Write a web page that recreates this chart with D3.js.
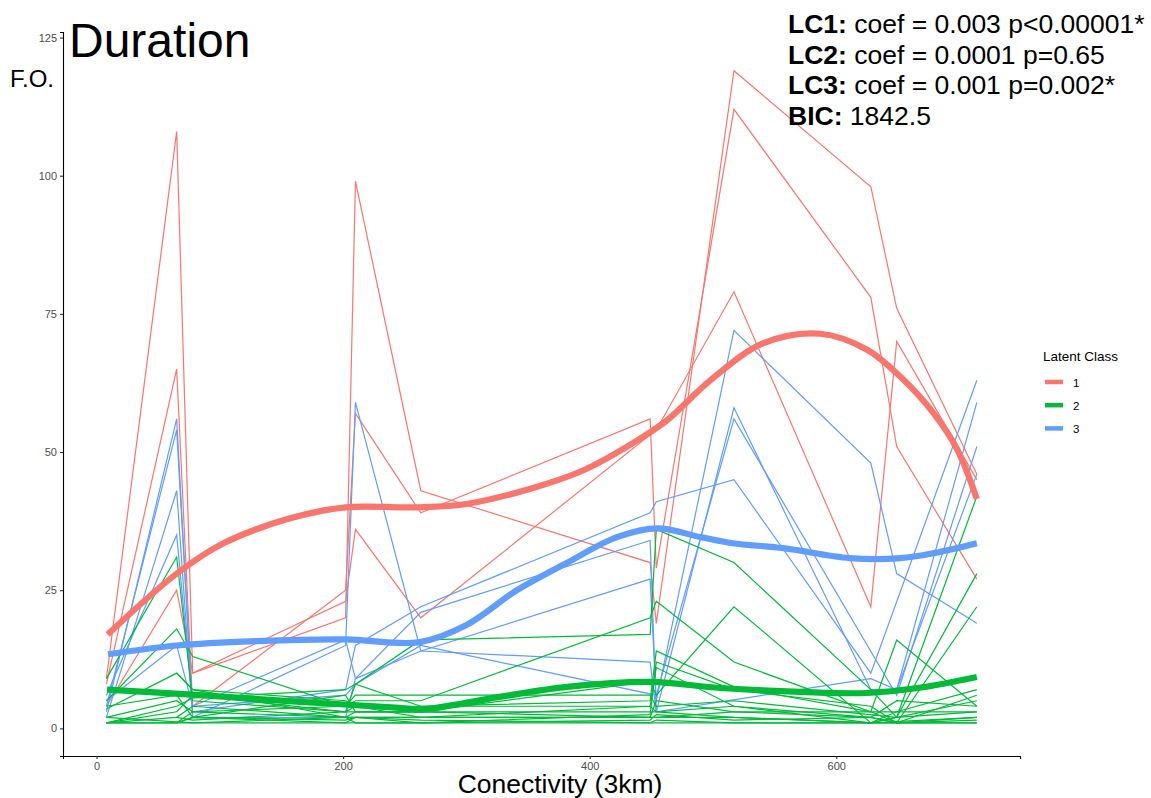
<!DOCTYPE html>
<html><head><meta charset="utf-8">
<script src="https://cdn.jsdelivr.net/npm/d3@7"></script>
<style>body{margin:0;background:#fff}svg{font-family:"Liberation Sans",Arial,sans-serif}</style>
</head><body>
<svg id="c" width="1151" height="798"></svg>
<script>
// ---- data ----
const xs = [8, 65, 78, 202, 210, 263, 449, 454, 517, 628, 649, 714];
const classNames = ["1", "2", "3"];
const classColors = ["#F8766D", "#00BA38", "#619CFF"];
const xTicks = [0, 200, 400, 600];
const yTicks = [0, 25, 50, 75, 100, 125];

// individual trajectories (values aligned to xs, null = not observed)
const class1Lines = [
  [9, 108, 10, 20, 99, 43, 30, 19, 119, 98, 76, 46],
  [8, 65, 4, 25, 57, 39, 56, 29, 112, 78, 51, 27],
  [4, 25, 10, 23, 36, 20, null, 54, 79, 22, 70, 45]
];
const class3Lines = [
  [3, 56, 2, 15, 59, 14, 27, 5, 72, 48, 28, 19],
  [4, 54, 3, 7, 15, 22, 39, 41, 45, 10, null, 63],
  [2, 43, 2, 2, 9, 21, 34, 3, 58, 7, 7, 59],
  [6, 35, 4, 6, 8, 15, null, 6, 56, null, 6, 51],
  [5, 15, 4, 16, 9, 14, 12, 3, null, 9, 7, 46]
];
const class2Lines = [
  [9, 31, 5, 3, 8, 16, 17, 36, 30, 7, 2, 42],
  [5, 18, 13, 4, 5, 5, 20, 23, 12, 3, 16, 4],
  [3.5, 10, 7, 2, 3, 3, 8.5, 6, 22, 1, 2, 28],
  [1, 4, 5.5, 7, 8, 4, 5, 14, 7.5, 3, 1, 22],
  [1, 2, 4, 2, 2, 2, 4, 11, 4, 1, 3, 7],
  [1, 1, 2, 1, 1, 1, 1, 1, 1, 1, 1, 1],
  [null, 1, 2, 1.5, 2, 2, 2, 2, 3, 3, null, 3],
  [null, 2, 1.5, 3, 3, 3, 3, 3, 2, 1, null, 2],
  [2, 5, 3, 4, 6, 6, 6, 4, 5, null, 2, 5],
  [1, 3, 6, 3, 4, 2, 2, 5, 3, 2, 5, 4],
  [null, 10, 7, 5, 4, 4, 4, 3, 4, 2, 1, 2],
  [2, null, 1, 1, 2, 1.5, 1, 1.5, 1, 1, 1, 1.5],
  [4, 6, 2, 6, 3, 3, 2, 2, 2, 1, 2, 3],
  [1, null, 1, 2, 1, 1, 1.5, 2.5, 1.5, 2, 1, 1],
  [null, 1, 3, 2, 2, 1, 2.5, 12, 7, 4, 1, 6]
];

// smoothed class means
const smoothX1 = [9, 65, 103, 157, 202, 246, 262, 300, 354, 395, 435, 463, 498, 541, 587, 625, 652, 679, 698, 714];
const smoothY1 = [17, 28, 33.5, 38, 40, 40, 40, 40.6, 43.5, 46.7, 51.6, 55.8, 63, 69.7, 71.4, 68.5, 63.6, 57, 50.5, 41.5];
const smoothX2 = [8.5, 84, 165, 246, 263, 327, 382, 449, 506, 571, 625, 666, 714];
const smoothY2 = [7, 6, 4.8, 3.7, 3.4, 5.7, 7.5, 8.4, 7.3, 6.6, 6.4, 7.3, 9.3];
const smoothX3 = [9.3, 65, 130, 202, 262, 300, 341, 382, 422, 455, 490, 516, 557, 611, 652, 679, 714];
const smoothY3 = [13.4, 15, 15.8, 16.1, 15.6, 18.7, 25, 30, 34.6, 36.2, 34.6, 33.5, 32.6, 30.8, 30.8, 31.7, 33.5];

const statLabels = ["LC1:", "LC2:", "LC3:", "BIC:"];
const statTexts = [" coef = 0.003 p<0.00001*", " coef = 0.0001 p=0.65", " coef = 0.001 p=0.002*", " 1842.5"];

// ---- drawing ----
const svg = d3.select("#c");
const x = d3.scaleLinear().domain([-27.2, 749]).range([63, 1020]);
const y = d3.scaleLinear().domain([-5, 126]).range([756, 32]);

const thin = d3.line().x(d => x(d[0])).y(d => y(d[1]));
const smooth = d3.line().x(d => x(d[0])).y(d => y(d[1])).curve(d3.curveCatmullRom.alpha(0.5));

const gThin = svg.append("g").attr("fill", "none").attr("stroke-width", 1.2);
function drawClass(lines, color) {
  lines.forEach(vals => {
    const pts = xs.map((xv, i) => [xv, vals[i]]).filter(p => p[1] != null);
    gThin.append("path").attr("d", thin(pts)).attr("stroke", color);
  });
}
drawClass(class1Lines, classColors[0]);
drawClass(class3Lines, classColors[2]);
drawClass(class2Lines, classColors[1]);

const gSm = svg.append("g").attr("fill", "none").attr("stroke-width", 6.2).attr("stroke-linecap", "butt");
[[smoothX1, smoothY1, 0], [smoothX2, smoothY2, 1], [smoothX3, smoothY3, 2]].forEach(([sx, sy, k]) => {
  gSm.append("path").attr("d", smooth(sx.map((v, i) => [v, sy[i]]))).attr("stroke", classColors[k]);
});

// axes
const xAxis = svg.append("g").attr("transform", "translate(0,756)")
  .call(d3.axisBottom(x).tickValues(xTicks).tickSize(3).tickPadding(3));
const yAxis = svg.append("g").attr("transform", "translate(63,0)")
  .call(d3.axisLeft(y).tickValues(yTicks).tickSize(3).tickPadding(3));
[xAxis, yAxis].forEach(a => {
  a.select(".domain").attr("stroke", "#000").attr("stroke-width", 1.1);
  a.selectAll(".tick line").attr("stroke", "#333").attr("stroke-width", 1.1);
  a.selectAll(".tick text").attr("fill", "#4D4D4D").style("font-size", "11px").style("font-family", "Liberation Sans, Arial, sans-serif");
});

// titles
svg.append("text").attr("x", 69).attr("y", 57).style("font-size", "48px").text("Duration");
svg.append("text").attr("x", 10).attr("y", 87).style("font-size", "24px").text("F.O.");
svg.append("text").attr("x", 560).attr("y", 793).attr("text-anchor", "middle").style("font-size", "26.5px").text("Conectivity (3km)");

// stats annotation
statLabels.forEach((lab, i) => {
  const t = svg.append("text").attr("x", 788).attr("y", 33 + i * 30.5).style("font-size", "26.5px");
  t.append("tspan").attr("font-weight", "bold").text(lab);
  t.append("tspan").attr("xml:space", "preserve").text(statTexts[i]);
});

// legend
svg.append("text").attr("x", 1043).attr("y", 361).style("font-size", "13.5px").attr("fill", "#000").text("Latent Class");
classNames.forEach((nm, i) => {
  const cy = 382 + i * 23.2;
  svg.append("line").attr("x1", 1045).attr("x2", 1063).attr("y1", cy).attr("y2", cy)
    .attr("stroke", classColors[i]).attr("stroke-width", 4.5);
  svg.append("text").attr("x", 1073).attr("y", cy + 4.5).style("font-size", "11.5px").text(nm);
});
</script>
</body></html>
